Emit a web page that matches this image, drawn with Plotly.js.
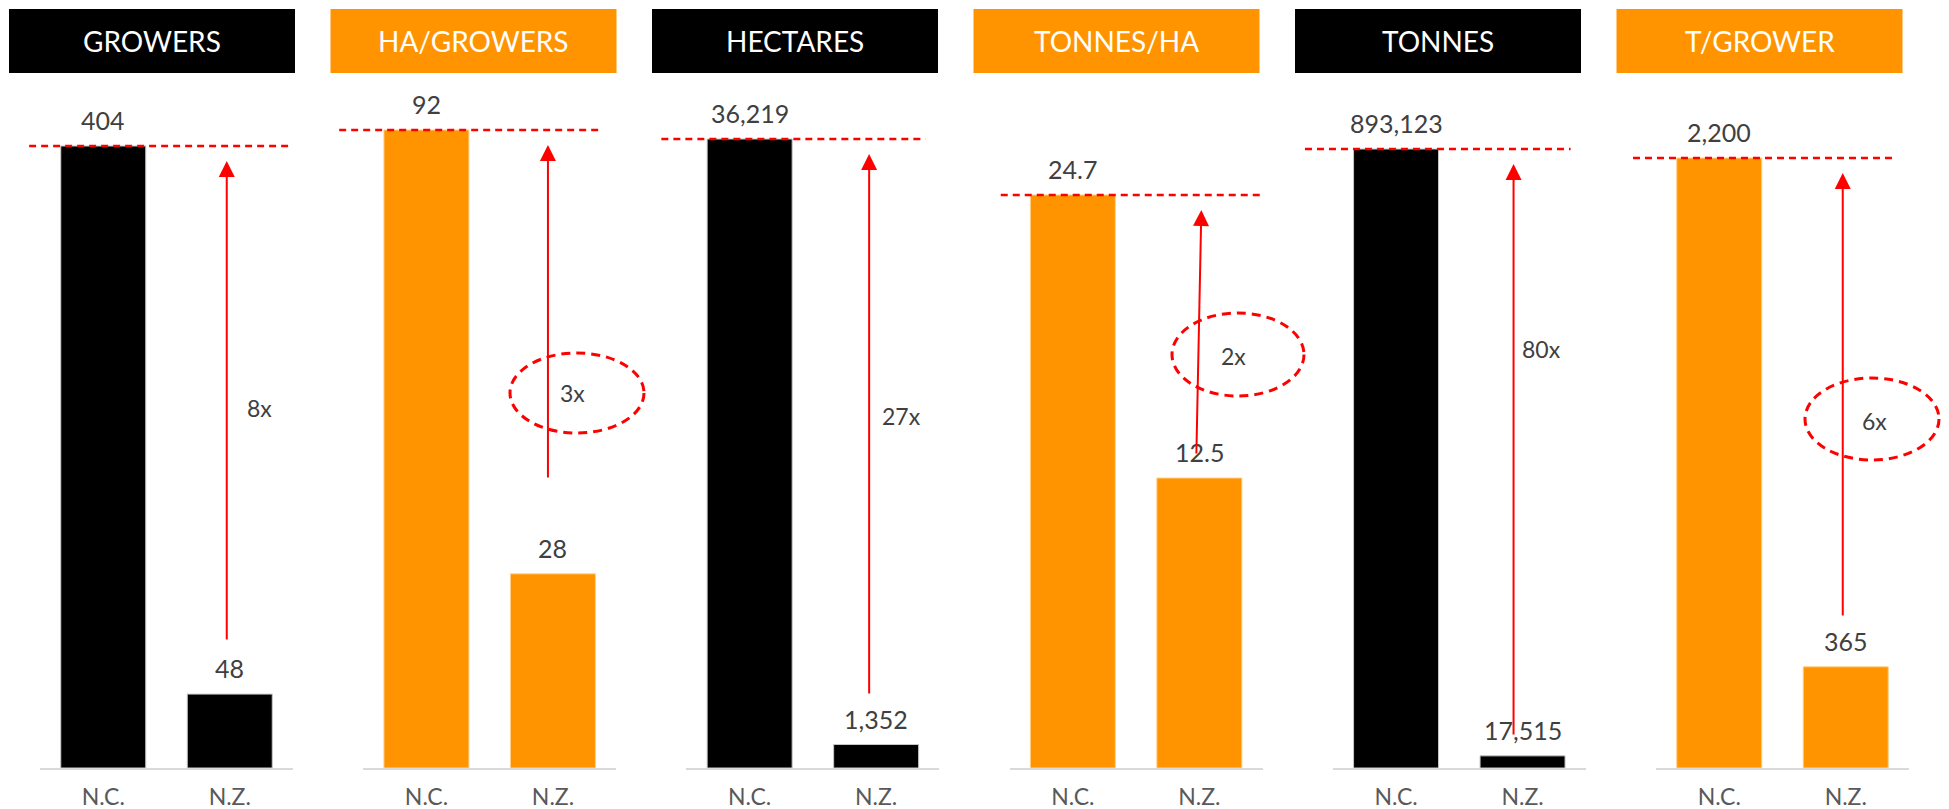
<!DOCTYPE html>
<html>
<head>
<meta charset="utf-8">
<script src="https://cdn.plot.ly/plotly-3.0.1.min.js"></script>
<style>
  html, body { margin: 0; padding: 0; background: #ffffff; }
  #chart { width: 1949px; height: 809px; }
</style>
</head>
<body>
<div id="chart"></div>
<script>
// ---------------- DATA ----------------
const categories = ['N.C.', 'N.Z.'];
const panelTitles = ['GROWERS', 'HA/GROWERS', 'HECTARES', 'TONNES/HA', 'TONNES', 'T/GROWER'];
const ncValues = [404, 92, 36219, 24.7, 893123, 2200];
const nzValues = [48, 28, 1352, 12.5, 17515, 365];
const multipliers = ['8x', '3x', '27x', '2x', '80x', '6x'];

// ---------------- STYLE / LAYOUT ----------------
const W = 1949, H = 809;
const BLACK = '#000000', ORANGE = '#FF9400', RED = '#FF0000';
const panelColors = [BLACK, ORANGE, BLACK, ORANGE, BLACK, ORANGE];
const FONT = 'Lato, "Open Sans", sans-serif';

const axisLeft0 = 40, axisPitch = 323.2, axisWidth = 253;
const plotTopPx = 100, baselinePx = 768;
// pixel row of the top of each N.C. bar (sets each panel's own scale)
const ncTopPx = [146, 130, 139, 195, 149, 158];

const headerLeft0 = 9, headerPitch = 321.5, headerWidth = 286, headerTop = 9, headerBottom = 73;

// dashed reference line extent, in fractions of each panel's x domain
const dashExtent = [[-0.043, 0.984], [-0.095, 0.94], [-0.099, 0.945], [-0.035, 1.0], [-0.11, 0.94], [-0.091, 0.94]];
// arrows: length (px), tail x offset (px), x shift (px)
const arrowLen = [480, 334, 541, 245, 572, 444];
const arrowTailDx = [0, 0, 0, -5, 0, 0];
const arrowShift = [-3, -5, -7, 2, -9, -3];
// multiplier label centres (px)
const multPos = [[259, 408], [572, 393], [901, 416], [1233, 356], [1541, 349], [1874, 421]];
// dashed ellipses (px boxes) for orange panels
const ellipses = [null, [510, 353, 644, 433], null, [1172, 313, 1304, 396], null, [1805, 378, 1939, 460]];

const px = v => v / W;
const py = v => 1 - v / H;

const traces = [];
const layout = {
  width: W, height: H,
  margin: { l: 0, r: 0, t: 0, b: 0 },
  paper_bgcolor: '#ffffff', plot_bgcolor: '#ffffff',
  showlegend: false,
  bargap: 0.328,
  shapes: [], annotations: []
};

function fmt(v) {
  return v.toLocaleString('en-US', { maximumFractionDigits: 1 });
}

for (let i = 0; i < 6; i++) {
  const n = i === 0 ? '' : String(i + 1);
  const xName = 'x' + n, yName = 'y' + n;
  const left = axisLeft0 + axisPitch * i;
  const yMax = ncValues[i] * (baselinePx - plotTopPx) / (baselinePx - ncTopPx[i]);

  layout['xaxis' + n] = {
    domain: [px(left), px(left + axisWidth)],
    anchor: yName,
    type: 'category',
    showline: true, linecolor: '#D9D9D9', linewidth: 2,
    showgrid: false, zeroline: false, ticks: '',
    tickfont: { family: FONT, size: 23, color: '#595959' },
    ticklabelstandoff: 7,
    fixedrange: true
  };
  layout['yaxis' + n] = {
    domain: [py(baselinePx), py(plotTopPx)],
    anchor: xName,
    range: [0, yMax],
    visible: false,
    fixedrange: true
  };

  traces.push({
    type: 'bar',
    x: categories,
    y: [ncValues[i], nzValues[i]],
    xaxis: xName, yaxis: yName,
    marker: { color: panelColors[i], line: { color: panelColors[i] === BLACK ? '#C8C8C8' : '#FFD08A', width: 1 } },
    hoverinfo: 'none'
  });

  // value labels
  [ncValues[i], nzValues[i]].forEach((v, k) => {
    layout.annotations.push({
      xref: xName, yref: yName, x: k, y: v,
      text: fmt(v), showarrow: false,
      yanchor: 'middle', yshift: 26,
      font: { family: FONT, size: 25, color: '#404040' }
    });
  });

  // header box + title
  const hl = headerLeft0 + headerPitch * i;
  layout.shapes.push({
    type: 'rect', xref: 'paper', yref: 'paper',
    x0: px(hl), x1: px(hl + headerWidth), y0: py(headerBottom), y1: py(headerTop),
    fillcolor: panelColors[i], line: { width: 0 }, layer: 'below'
  });
  layout.annotations.push({
    xref: 'paper', yref: 'paper',
    x: px(hl + headerWidth / 2), y: py((headerTop + headerBottom) / 2),
    text: panelTitles[i], showarrow: false,
    xanchor: 'center', yanchor: 'middle',
    font: { family: FONT, size: 28, color: '#ffffff' }
  });

  // dashed reference line at the N.C. level
  layout.shapes.push({
    type: 'line', xref: xName + ' domain', yref: yName,
    x0: dashExtent[i][0], x1: dashExtent[i][1], y0: ncValues[i], y1: ncValues[i],
    line: { color: RED, width: 2.5, dash: '7px,5px' }
  });

  // arrow from N.Z. up to N.C. level
  layout.annotations.push({
    xref: xName, yref: yName, x: 1, y: ncValues[i],
    axref: 'pixel', ayref: 'pixel', ax: arrowTailDx[i], ay: arrowLen[i],
    xshift: arrowShift[i], yshift: -15,
    text: '', showarrow: true,
    arrowhead: 2, arrowsize: 1.6, arrowwidth: 2, arrowcolor: RED
  });

  // multiplier label
  layout.annotations.push({
    xref: 'paper', yref: 'paper',
    x: px(multPos[i][0]), y: py(multPos[i][1]),
    text: multipliers[i], showarrow: false,
    xanchor: 'center', yanchor: 'middle',
    font: { family: FONT, size: 23, color: '#404040' }
  });

  if (ellipses[i]) {
    const e = ellipses[i];
    layout.shapes.push({
      type: 'circle', xref: 'paper', yref: 'paper',
      x0: px(e[0]), x1: px(e[2]), y0: py(e[3]), y1: py(e[1]),
      line: { color: RED, width: 3, dash: '9px,6px' }
    });
  }
}

Plotly.newPlot('chart', traces, layout, { displayModeBar: false, staticPlot: true });
</script>
</body>
</html>
